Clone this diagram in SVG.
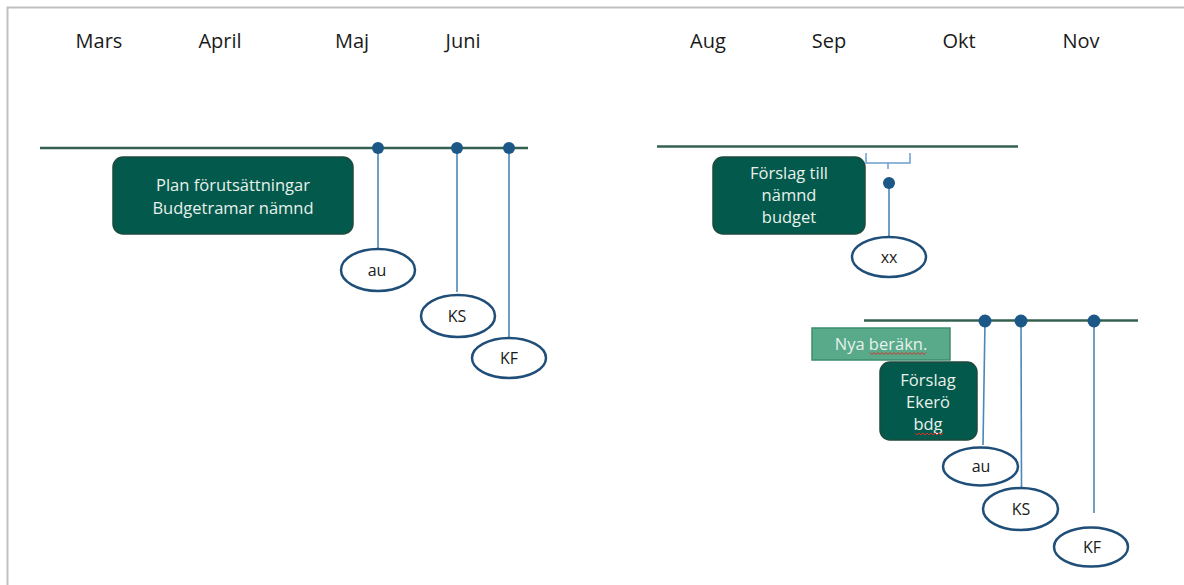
<svg xmlns="http://www.w3.org/2000/svg" width="1184" height="585" viewBox="0 0 1184 585">
<defs>
<style>
.month{font-family:"Open Sans","Liberation Sans",sans-serif;font-size:20px;fill:#1a1a1a;text-anchor:middle}
.tl{stroke:#34604f;stroke-width:2.5;fill:none}
.dot{fill:#1b5888}
.vl{stroke:#4c87b8;stroke-width:1.6;fill:none}
.ell{fill:#ffffff;stroke:#1f4e79;stroke-width:2.5}
.etx{font-family:"Open Sans","Liberation Sans",sans-serif;font-size:16px;fill:#1a1a1a;text-anchor:middle}
.box{fill:#03594b;stroke:#1d4a3d;stroke-width:1.5}
.btx{font-family:"Open Sans","Liberation Sans",sans-serif;font-size:16.5px;fill:#e8f1ec;text-anchor:middle}
.lbox{fill:#58aa8a;stroke:#3e8c6c;stroke-width:1.5}
.wave{stroke:#d9302a;stroke-width:1;fill:none}
</style>
</defs>
<rect width="1184" height="585" fill="#ffffff"/>
<path d="M7.5 585 V7.5 H1184" stroke="#c0c0c0" stroke-width="2" fill="none"/>

<g id="months">
<text class="month" x="99" y="48">Mars</text>
<text class="month" x="220" y="48">April</text>
<text class="month" x="352" y="48">Maj</text>
<text class="month" x="463" y="48">Juni</text>
<text class="month" x="708" y="48">Aug</text>
<text class="month" x="829" y="48">Sep</text>
<text class="month" x="959" y="48">Okt</text>
<text class="month" x="1081" y="48">Nov</text>
</g>

<g id="connectors">
<line class="tl" x1="40" y1="148" x2="528" y2="148"/>
<line class="tl" x1="657" y1="146.5" x2="1018" y2="146.5"/>
<line class="tl" x1="864" y1="320.5" x2="1138" y2="320.5"/>
<line class="vl" x1="378" y1="148" x2="378" y2="249"/>
<line class="vl" x1="457" y1="148" x2="457" y2="292"/>
<line class="vl" x1="509" y1="148" x2="509" y2="338"/>
<path d="M866 153 V163 H888 V169 M888 163 H910 V153" stroke="#6a9fcf" stroke-width="1.5" fill="none"/>
<line class="vl" x1="889" y1="183" x2="889" y2="236"/>
<line class="vl" x1="985" y1="321" x2="983" y2="445"/>
<line class="vl" x1="1021" y1="321" x2="1021.5" y2="487"/>
<line class="vl" x1="1094" y1="321" x2="1094" y2="513"/>
<circle class="dot" cx="378" cy="148" r="6"/>
<circle class="dot" cx="457" cy="148" r="6"/>
<circle class="dot" cx="509" cy="148" r="6"/>
<circle class="dot" cx="889" cy="183" r="6"/>
<circle class="dot" cx="985" cy="321" r="6.5"/>
<circle class="dot" cx="1021" cy="321" r="6.5"/>
<circle class="dot" cx="1094" cy="321" r="6.5"/>
</g>

<g id="plan">
<rect class="box" x="113" y="157" width="240" height="77" rx="10"/>
<text class="btx" x="233" y="191">Plan förutsättningar</text>
<text class="btx" x="233" y="214">Budgetramar nämnd</text>
</g>

<g id="au1">
<ellipse class="ell" cx="378" cy="270" rx="37" ry="21"/>
<text class="etx" x="377" y="276">au</text>
</g>
<g id="ks1">
<ellipse class="ell" cx="458" cy="316" rx="37" ry="21"/>
<text class="etx" x="457" y="322">KS</text>
</g>
<g id="kf1">
<ellipse class="ell" cx="509" cy="358" rx="37" ry="20"/>
<text class="etx" x="509" y="364">KF</text>
</g>

<g id="forslag-namnd">
<rect class="box" x="713" y="157" width="152" height="77" rx="10"/>
<text class="btx" x="789" y="179">Förslag till</text>
<text class="btx" x="789" y="201">nämnd</text>
<text class="btx" x="789" y="223">budget</text>
</g>
<g id="xx">
<ellipse class="ell" cx="889" cy="257" rx="37" ry="20"/>
<text class="etx" x="889" y="263">xx</text>
</g>

<g id="nya">
<rect class="lbox" x="812" y="328" width="138" height="32"/>
<text class="btx" x="881" y="350">Nya beräkn.</text>
<polyline class="wave" points="870,352.5 872,354.5 874,352.5 876,354.5 878,352.5 880,354.5 882,352.5 884,354.5 886,352.5 888,354.5 890,352.5 892,354.5 894,352.5 896,354.5 898,352.5 900,354.5 902,352.5 904,354.5 906,352.5 908,354.5 910,352.5 912,354.5 914,352.5 916,354.5 918,352.5 920,354.5 922,352.5 924,354.5 926,352.5"/>
</g>

<g id="forslag-ekero">
<rect class="box" x="880" y="362" width="97" height="78" rx="10"/>
<text class="btx" x="928" y="386">Förslag</text>
<text class="btx" x="928" y="408">Ekerö</text>
<text class="btx" x="928" y="430">bdg</text>
<polyline class="wave" points="915,433 917,435 919,433 921,435 923,433 925,435 927,433 929,435 931,433 933,435 935,433 937,435 939,433 941,435 943,433"/>
</g>

<g id="au2">
<ellipse class="ell" cx="980.5" cy="466.5" rx="37.5" ry="19"/>
<text class="etx" x="981" y="472">au</text>
</g>
<g id="ks2">
<ellipse class="ell" cx="1020.5" cy="509" rx="37.5" ry="21"/>
<text class="etx" x="1021" y="515">KS</text>
</g>
<g id="kf2">
<ellipse class="ell" cx="1091" cy="547" rx="37" ry="19.5"/>
<text class="etx" x="1092" y="553">KF</text>
</g>
</svg>
